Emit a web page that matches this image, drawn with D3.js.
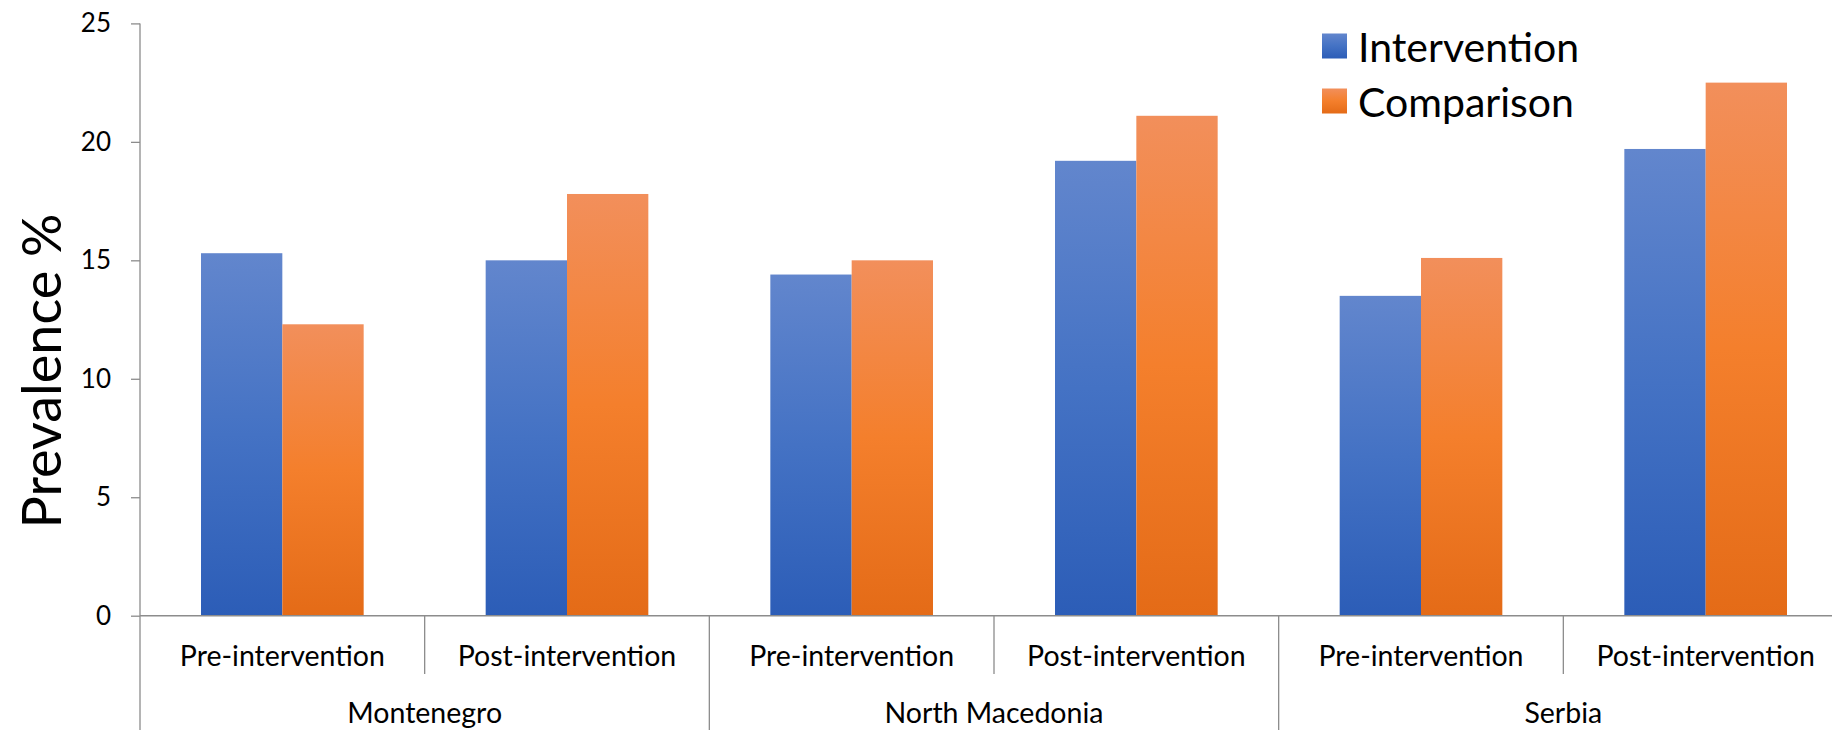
<!DOCTYPE html>
<html>
<head>
<meta charset="utf-8">
<script src="https://cdn.jsdelivr.net/npm/d3@7"></script>
<style>
  html, body { margin: 0; padding: 0; background: #fff; }
  svg { display: block; }
</style>
</head>
<body>
<svg id="chart" width="1832" height="730"></svg>
<script>
const countries = ["Montenegro", "North Macedonia", "Serbia"];
const periods = ["Pre-intervention", "Post-intervention"];
const seriesNames = ["Intervention", "Comparison"];
const interventionValues = [15.3, 15.0, 14.4, 19.2, 13.5, 19.7];
const comparisonValues = [12.3, 17.8, 15.0, 21.1, 15.1, 22.5];
const yTicks = [0, 5, 10, 15, 20, 25];

(function () {
const rows = [];
countries.forEach((c, ci) => periods.forEach((p, pi) => {
  const i = ci * periods.length + pi;
  rows.push({ key: c + "|" + p, country: c, period: p, values: [interventionValues[i], comparisonValues[i]] });
}));

const W = 1832, H = 730;
const mLeft = 140, mRight = 1848, mTop = 23.4, mBottom = 615.7;
const svg = d3.select("#chart");
const defs = svg.append("defs");

const grads = [
  { id: "gBlue", stops: ["#6286CD", "#4472C4", "#2C5DB7"] },
  { id: "gOrange", stops: ["#F28F5B", "#F47F2C", "#E46B17"] }
];
grads.forEach(g => {
  const lg = defs.append("linearGradient").attr("id", g.id).attr("x1", 0).attr("y1", 0).attr("x2", 0).attr("y2", 1);
  lg.append("stop").attr("offset", "0%").attr("stop-color", g.stops[0]);
  lg.append("stop").attr("offset", "50%").attr("stop-color", g.stops[1]);
  lg.append("stop").attr("offset", "100%").attr("stop-color", g.stops[2]);
});

const x = d3.scaleBand().domain(rows.map(d => d.key)).range([mLeft, mRight]).paddingInner(0).paddingOuter(0);
const inner = d3.scaleBand().domain(seriesNames).range([0, x.bandwidth()]).paddingInner(0).paddingOuter(0.75);
const y = d3.scaleLinear().domain([0, 25]).range([mBottom, mTop]);

// bars
const g = svg.append("g");
rows.forEach(r => {
  seriesNames.forEach((s, si) => {
    g.append("rect")
      .attr("x", x(r.key) + inner(s))
      .attr("y", y(r.values[si]))
      .attr("width", inner.bandwidth())
      .attr("height", y(0) - y(r.values[si]))
      .attr("fill", si === 0 ? "url(#gBlue)" : "url(#gOrange)");
  });
});

// y axis
const yAxis = d3.axisLeft(y).tickValues(yTicks).tickSize(9).tickSizeOuter(0).tickPadding(20);
const ya = svg.append("g").attr("transform", `translate(${mLeft},0)`).call(yAxis);
ya.select(".domain").remove();
ya.selectAll(".tick line").attr("stroke", "#8c8c8c").attr("stroke-width", 1.3);
ya.selectAll(".tick text").attr("font-family", "Lato").attr("font-size", 26).attr("fill", "#000");
svg.append("line").attr("x1", mLeft).attr("x2", mLeft).attr("y1", y(25)).attr("y2", H)
  .attr("stroke", "#8c8c8c").attr("stroke-width", 1.3);

// x axis line
svg.append("line").attr("x1", mLeft).attr("x2", W).attr("y1", mBottom).attr("y2", mBottom)
  .attr("stroke", "#8c8c8c").attr("stroke-width", 1.5);

// dividers
rows.forEach((r, i) => {
  if (i === 0) return;
  const long = i % periods.length === 0;
  svg.append("line").attr("x1", x(r.key)).attr("x2", x(r.key))
    .attr("y1", mBottom).attr("y2", long ? H : 674)
    .attr("stroke", "#8c8c8c").attr("stroke-width", 1.3);
});

// period labels
rows.forEach(r => {
  svg.append("text").attr("x", x(r.key) + x.bandwidth() / 2).attr("y", 655)
    .attr("text-anchor", "middle").attr("dominant-baseline", "central")
    .attr("font-family", "Lato").attr("font-size", 28.5).attr("fill", "#000")
    .text(r.period);
});
// country labels
countries.forEach(c => {
  const first = x(c + "|" + periods[0]);
  const last = x(c + "|" + periods[periods.length - 1]) + x.bandwidth();
  svg.append("text").attr("x", (first + last) / 2).attr("y", 723)
    .attr("text-anchor", "middle")
    .attr("font-family", "Lato").attr("font-size", 28.5).attr("fill", "#000")
    .text(c);
});

// y title
svg.append("text").attr("transform", `translate(40,371) rotate(-90)`)
  .attr("text-anchor", "middle").attr("dominant-baseline", "central")
  .attr("font-family", "Lato").attr("font-size", 54).attr("fill", "#000")
  .text("Prevalence %");

// legend
seriesNames.forEach((s, i) => {
  const ly = 46 + i * 55;
  svg.append("rect").attr("x", 1322).attr("y", ly - 12.5).attr("width", 25).attr("height", 25)
    .attr("fill", i === 0 ? "url(#gBlue)" : "url(#gOrange)");
  svg.append("text").attr("x", 1358).attr("y", ly).attr("dominant-baseline", "central")
    .attr("font-family", "Lato").attr("font-size", 41).attr("fill", "#000").text(s);
});
})();
</script>
</body>
</html>
